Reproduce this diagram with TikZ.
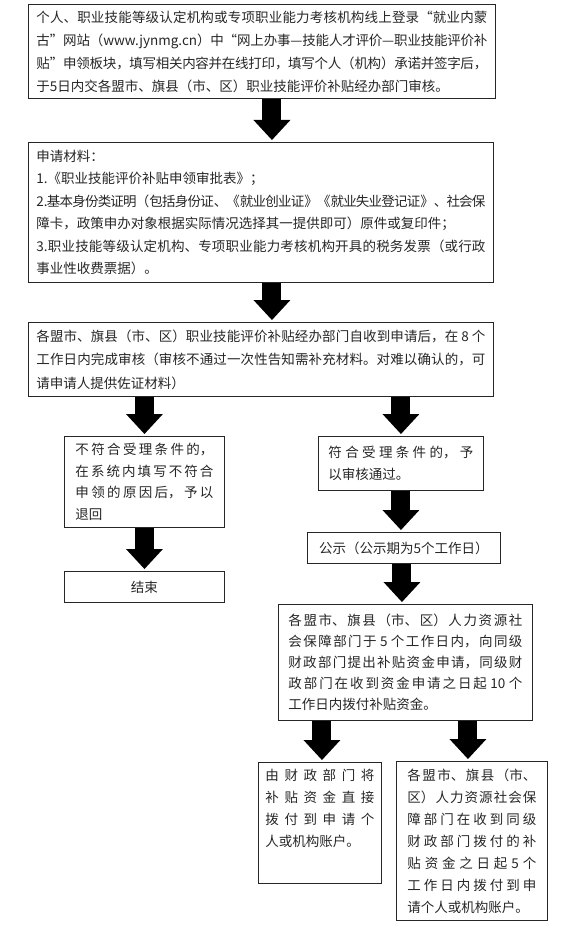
\documentclass[tikz,border=0pt]{standalone}
\usepackage{fontspec}
\setmainfont{Noto Sans CJK SC}
\usetikzlibrary{arrows.meta}
\XeTeXlinebreaklocale "zh"
\XeTeXlinebreakskip=0pt plus 6pt minus 1.5pt
\XeTeXlinebreakpenalty=10000
\begin{document}
\begin{tikzpicture}[x=1pt,y=-1pt,
  box/.style={draw=black!85,line width=0.9pt,text=black!85,anchor=north west,
    inner xsep=8pt,inner ysep=3pt,align=justify,
    font=\fontsize{13.5}{22.5}\selectfont},
  flow/.style={line width=19pt,
    -{Triangle[width=37pt 0 0,length=20pt 0 0,line width=0pt]},shorten >=2pt}]
  \useasboundingbox (0,0) rectangle (566,931);
  \node[box,text width=451pt,minimum height=94pt,font=\fontsize{13.5}{23}\selectfont] (apply) at (28,4)
    {个人、职业技能等级认定机构或专项职业能力考核机构线上登录“就业内蒙\linebreak 古”网站（www.jynmg.cn）中“网上办事—技能人才评价—职业技能评价补\linebreak 贴”申领板块，填写相关内容并在线打印，填写个人（机构）承诺并签字后，\linebreak 于5日内交各盟市、旗县（市、区）职业技能评价补贴经办部门审核。};
  \node[box,text width=449pt,minimum height=140pt] (materials) at (28,142)
    {申请材料：\\1.《职业技能评价补贴申领审批表》；\\2.基本身份类证明（包括身份证、《就业创业证》《就业失业登记证》、社会保\linebreak 障卡，政策申办对象根据实际情况选择其一提供即可）原件或复印件；\\3.职业技能等级认定机构、专项职业能力考核机构开具的税务发票（或行政\linebreak 事业性收费票据）。};
  \node[box,text width=449pt,minimum height=74pt,font=\fontsize{13.5}{23.5}\selectfont] (review) at (28,322)
    {各盟市、旗县（市、区）职业技能评价补贴经办部门自收到申请后，在 8 个\linebreak 工作日内完成审核（审核不通过一次性告知需补充材料。对难以确认的，可\linebreak 请申请人提供佐证材料）};
  \node[box,text width=138pt,inner xsep=11pt,minimum height=91pt,font=\fontsize{13.5}{21.5}\selectfont] (reject) at (64,436)
    {不符合受理条件的，\linebreak 在系统内填写不符合\linebreak 申领的原因后，予以\linebreak 退回};
  \node[box,minimum width=160pt,minimum height=31pt,align=center] (stop) at (64,571) {结束};
  \node[box,text width=145pt,inner xsep=10pt,minimum height=54pt] (pass) at (318,436)
    {符合受理条件的，予\linebreak 以审核通过。};
  \node[box,minimum width=193pt,minimum height=31pt,align=center] (notice) at (307,532)
    {公示（公示期为5个工作日）};
  \node[box,text width=234pt,inner xsep=10pt,minimum height=116pt,font=\fontsize{13.5}{21}\selectfont] (fund) at (278,604)
    {各盟市、旗县（市、区）人力资源社\linebreak 会保障部门于 5 个工作日内，向同级\linebreak 财政部门提出补贴资金申请，同级财\linebreak 政部门在收到资金申请之日起 10 个\linebreak 工作日内拨付补贴资金。};
  \node[box,text width=109pt,inner xsep=7pt,inner ysep=6pt,text height=12pt,text depth=97pt,font=\fontsize{13.5}{22}\selectfont] (direct) at (258,762)
    {由财政部门将\linebreak 补贴资金直接\linebreak 拨付到申请个\linebreak 人或机构账户。};
  \node[box,text width=129pt,inner xsep=11pt,minimum height=159pt,font=\fontsize{13.5}{22}\selectfont] (local) at (396,761)
    {各盟市、旗县（市、\linebreak 区）人力资源社会保\linebreak 障部门在收到同级\linebreak 财政部门拨付的补\linebreak 贴资金之日起 5 个\linebreak 工作日内拨付到申\linebreak 请个人或机构账户。};
  \draw[flow] ([xshift=10pt]apply.south) -- ([xshift=10pt]apply.south |- materials.north);
  \draw[flow] ([xshift=11pt]materials.south) -- ([xshift=11pt]materials.south |- review.north);
  \draw[flow] (review.south -| reject.north) -- (reject.north);
  \draw[flow] (reject.south) -- (stop.north);
  \draw[flow] (review.south -| pass.north) -- (pass.north);
  \draw[flow] (pass.south) -- (pass.south |- notice.north);
  \draw[flow] ([xshift=-2pt]notice.south) -- ([xshift=-2pt]notice.south |- fund.north);
  \draw[flow] ([xshift=2pt]fund.south -| direct.north) -- ([xshift=2pt]direct.north);
  \draw[flow] ([xshift=-4pt]fund.south -| local.north) -- ([xshift=-4pt]local.north);
\end{tikzpicture}
\end{document}
